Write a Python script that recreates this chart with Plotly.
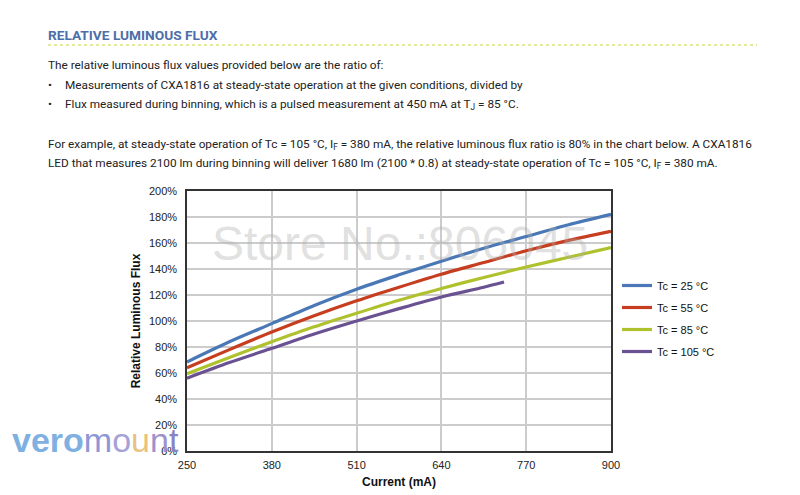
import plotly.graph_objects as go

current = [250, 315, 380, 445, 510, 575, 640, 705, 770, 835, 900]
flux_25 = [68.5, 84, 98, 112, 124.5, 135.5, 146, 156, 165, 174, 182]
flux_55 = [64, 78, 91.5, 104, 115.5, 126, 136, 145, 154, 162, 169]
flux_85 = [59.5, 72, 84, 95.5, 106, 116, 125, 133.5, 141.5, 149, 156.5]
current_105 = [250, 315, 380, 445, 510, 575, 640, 705, 736]
flux_105 = [56, 68, 79, 90, 100, 109.5, 118.5, 126, 130]

series = [
    ("Tc = 25 °C", current, flux_25, "#4a78b6"),
    ("Tc = 55 °C", current, flux_55, "#c63d1f"),
    ("Tc = 85 °C", current, flux_85, "#afc22e"),
    ("Tc = 105 °C", current_105, flux_105, "#6a5192"),
]

x_ticks = [250, 380, 510, 640, 770, 900]
y_ticks = [0, 20, 40, 60, 80, 100, 120, 140, 160, 180, 200]
y_tick_labels = [f"{v}%" for v in y_ticks]

fig = go.Figure()
for name, xs, ys, col in series:
    fig.add_trace(go.Scatter(x=xs, y=ys, mode="lines", name=name, legendgroup=name,
                             line=dict(color=col, width=3.2, shape="spline", smoothing=0.8)))

L, R, T, B = 187, 611, 191, 451
def px(x):
    return (x - L) / (R - L)
def py(y):
    return (B - y) / (B - T)

body_font = "Roboto, Arial"
anns = []
def ann(x, y, text, font, xanchor="left"):
    anns.append(dict(x=px(x), y=py(y), xref="paper", yref="paper", text=text, xanchor=xanchor,
                     yanchor="middle", showarrow=False, font=font))

ann(46, 35, "<b>RELATIVE LUMINOUS FLUX</b>", dict(family=body_font, size=13.7, color="#4d6ea9"))
lines = [
    (46, 65, "The relative luminous flux values provided below are the ratio of:"),
    (46, 85, "•"),
    (63, 85, "Measurements of CXA1816 at steady-state operation at the given conditions, divided by"),
    (46, 104, "•"),
    (63, 104, "Flux measured during binning, which is a pulsed measurement at 450 mA at T<sub>J</sub> = 85 °C."),
    (46, 144, "For example, at steady-state operation of Tc = 105 °C, I<sub>F</sub> = 380 mA, the relative luminous flux ratio is 80% in the chart below. A CXA1816"),
    (46, 163, "LED that measures 2100 lm during binning will deliver 1680 lm (2100 * 0.8) at steady-state operation of Tc = 105 °C, I<sub>F</sub> = 380 mA."),
]
for x0, y0, t in lines:
    ann(x0, y0, t, dict(family=body_font, size=11.8, color="#222222"))

ann(400, 243, "Store No.:806045", dict(family="Arial", size=48, color="rgba(175,175,175,0.4)"), "center")
ann(10, 440, "<b><span style='color:#7fb0e2'>vero</span></b><span style='color:#8d97d6'>m</span>"
             "<span style='color:#a6a2d8'>o</span><span style='color:#e9c27e'>u</span>"
             "<span style='color:#9e92cc'>n</span><span style='color:#8b84c2'>t</span>",
    dict(family="Arial", size=34))

fig.update_layout(
    width=800, height=495,
    margin=dict(l=L, r=800 - R, t=T, b=495 - B),
    paper_bgcolor="white", plot_bgcolor="white",
    font=dict(family="Arial", color="#111111"),
    showlegend=True,
    legend=dict(x=px(617), y=py(271), xanchor="left", yanchor="top",
                font=dict(size=11, color="#111111", family="Arial"),
                bgcolor="rgba(0,0,0,0)", tracegroupgap=3, itemwidth=30),
    annotations=anns,
    shapes=[dict(type="line", xref="paper", yref="paper", x0=px(48), x1=px(757), y0=py(45), y1=py(45),
                 line=dict(color="#c8d43a", width=1, dash="dot"))],
)
fig.update_xaxes(range=[250, 900], tickvals=x_ticks, showgrid=True, gridcolor="#cccccc", gridwidth=2,
                 showline=True, linecolor="#333333", linewidth=1.5, mirror=True, zeroline=False,
                 automargin=False,
                 tickfont=dict(size=11, color="#222222"), ticklabelstandoff=3,
                 title=dict(text="<b>Current (mA)</b>", font=dict(size=12, color="#111111"), standoff=8))
fig.update_yaxes(range=[0, 200], tickvals=y_ticks, ticktext=y_tick_labels, showgrid=True, gridcolor="#cccccc",
                 gridwidth=2, showline=True, linecolor="#333333", linewidth=1.5, mirror=True, zeroline=False,
                 automargin=False,
                 tickfont=dict(size=11, color="#222222"), ticklabelstandoff=6,
                 title=dict(text="<b>Relative Luminous Flux</b>", font=dict(size=12, color="#111111"), standoff=6))

fig.write_html("out.html")
